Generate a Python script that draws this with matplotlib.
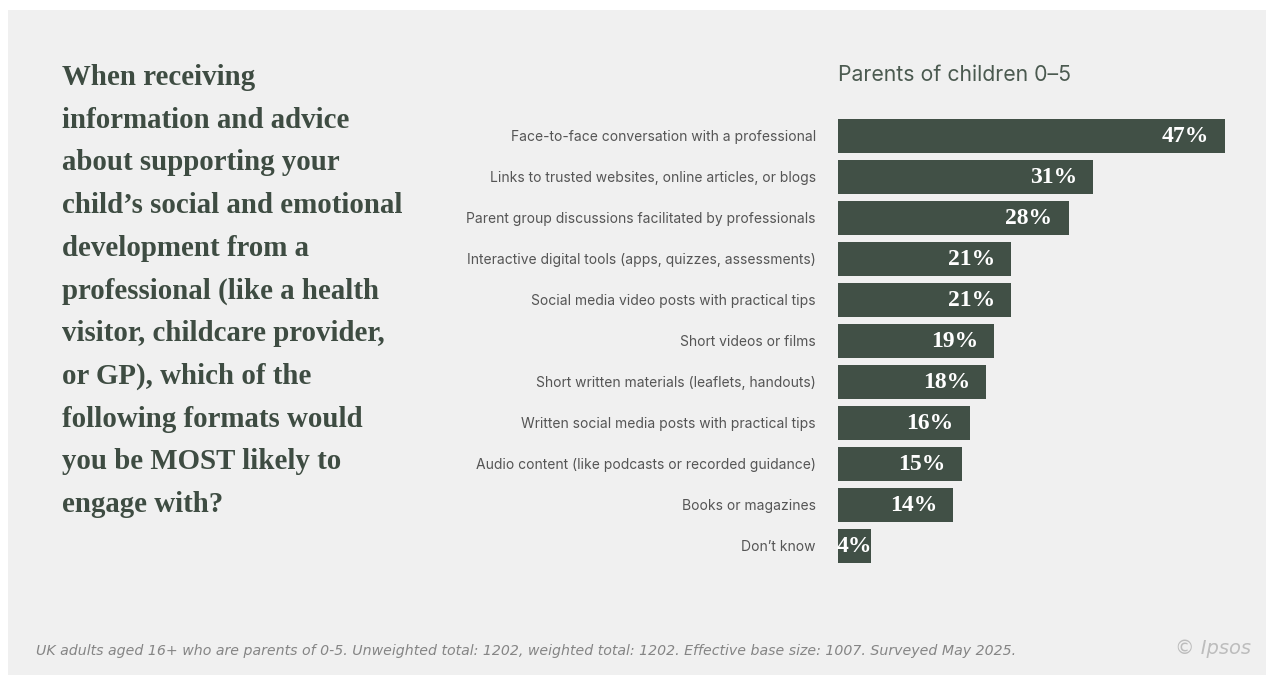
import matplotlib.pyplot as plt
from matplotlib.patches import Rectangle

# ----------------------------
# Data
# ----------------------------
categories = [
    "Face-to-face conversation with a professional",
    "Links to trusted websites, online articles, or blogs",
    "Parent group discussions facilitated by professionals",
    "Interactive digital tools (apps, quizzes, assessments)",
    "Social media video posts with practical tips",
    "Short videos or films",
    "Short written materials (leaflets, handouts)",
    "Written social media posts with practical tips",
    "Audio content (like podcasts or recorded guidance)",
    "Books or magazines",
    "Don\u2019t know",
]
values = [47, 31, 28, 21, 21, 19, 18, 16, 15, 14, 4]

question = ("When receiving\ninformation and advice\nabout supporting your\n"
            "child\u2019s social and emotional\ndevelopment from a\n"
            "professional (like a health\nvisitor, childcare provider,\n"
            "or GP), which of the\nfollowing formats would\n"
            "you be MOST likely to\nengage with?")
subtitle = "Parents of children 0\u20135"
footnote = ("UK adults aged 16+ who are parents of 0-5. Unweighted total: 1202, "
            "weighted total: 1202. Effective base size: 1007. Surveyed May 2025.")
brand = "\u00a9 Ipsos"

# ----------------------------
# Style
# ----------------------------
W, H = 1266, 675
BAR = "#415046"
TEXT_DARK = "#3e4c42"
PANEL = "#f0f0f0"
SERIF = ["Liberation Serif", "DejaVu Serif"]
SANS = ["Inter", "DejaVu Sans"]

fig = plt.figure(figsize=(W / 100, H / 100), dpi=100, facecolor="white")
fig.patches.append(Rectangle((8 / W, 0), 1 - 8 / W, 1 - 10 / H,
                             transform=fig.transFigure, facecolor=PANEL,
                             edgecolor="none", zorder=-1))

# bar axes: x=0 at 838px, 47% at 1225px; rows centred from 135.5px, 41px apart
px_per_pct = (1225 - 838) / 47
xmax = 50
top_px = 135.5 - 20.5
bot_px = 135.5 + 41 * (len(values) - 1) + 20.5
ax = fig.add_axes([838 / W, 1 - bot_px / H, xmax * px_per_pct / W,
                   (bot_px - top_px) / H])
ax.set_facecolor("none")
ax.set_zorder(2)

ypos = list(range(len(values)))
ax.barh(ypos, values, height=34 / 41, color=BAR, zorder=2)
ax.set_xlim(0, xmax)
ax.set_ylim(len(values) - 0.5, -0.5)

for y, v in zip(ypos, values):
    ax.text(v - 16 / px_per_pct if v > 5 else v / 2, y + 0.03, f"{v}%",
            ha="right" if v > 5 else "center", va="center",
            color="white", fontsize=17, fontweight="bold", family=SERIF)

ax.set_yticks(ypos)
ax.set_yticklabels(categories, family=SANS, fontsize=10.0, color="#555555")
ax.tick_params(axis="y", length=0, pad=16)
ax.set_xticks([])
for side in ax.spines.values():
    side.set_visible(False)

# left question text
fig.text(62 / W, 1 - 64 / H, question, ha="left", va="top",
         family=SERIF, fontweight="bold", fontsize=20.8,
         color=TEXT_DARK, linespacing=1.745)

fig.text(838 / W, 1 - 75 / H, subtitle, ha="left", va="center",
         family=SANS, fontsize=15.3, color="#4b5a50")

fig.text(36 / W, 1 - 651 / H, footnote, ha="left", va="center",
         family=["DejaVu Sans"], style="italic", fontsize=10.2,
         color="#858585")
fig.text(1251 / W, 1 - 648 / H, brand, ha="right", va="center",
         family=["DejaVu Sans"], style="italic", fontsize=14,
         color="#bdbdbd")

fig.savefig("out.png", dpi=100, facecolor=fig.get_facecolor())
